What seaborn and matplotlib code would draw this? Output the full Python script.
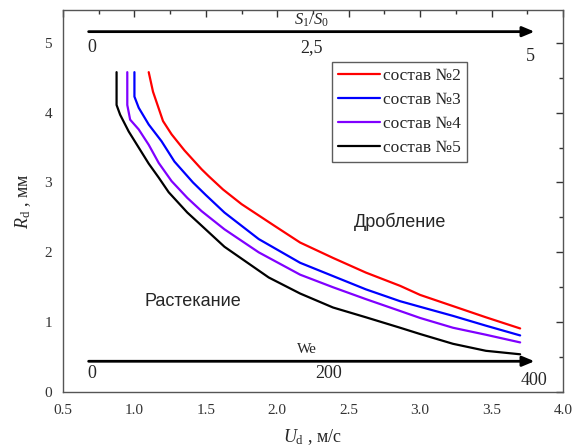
import matplotlib
matplotlib.use("Agg")
import matplotlib.pyplot as plt
import seaborn as sns
import pandas as pd
from matplotlib.ticker import MultipleLocator

sns.set_theme(style="white")
plt.rcParams['font.family'] = ['Liberation Serif', 'DejaVu Serif']
plt.rcParams['mathtext.fontset'] = 'custom'
plt.rcParams['mathtext.rm'] = 'Liberation Serif'
plt.rcParams['mathtext.it'] = 'Liberation Serif:italic'

labels = ["состав №2", "состав №3", "состав №4", "состав №5"]
colors = ["#ff0000", "#0000ff", "#8000ff", "#000000"]

ud2 = [1.10, 1.13, 1.20, 1.26, 1.35, 1.47, 1.52, 1.62, 1.75, 1.98, 2.16, 2.39, 2.62, 2.86, 3.00, 3.23, 3.46, 3.70]
rd2 = [4.58, 4.30, 3.88, 3.69, 3.46, 3.19, 3.09, 2.90, 2.69, 2.38, 2.14, 1.92, 1.71, 1.52, 1.39, 1.23, 1.07, 0.91]
ud3 = [1.00, 1.00, 1.03, 1.10, 1.19, 1.28, 1.41, 1.50, 1.63, 1.87, 2.16, 2.39, 2.62, 2.86, 3.00, 3.23, 3.46, 3.70]
rd3 = [4.58, 4.23, 4.07, 3.83, 3.59, 3.30, 3.00, 2.82, 2.57, 2.19, 1.85, 1.66, 1.47, 1.30, 1.22, 1.09, 0.95, 0.81]
ud4 = [0.95, 0.95, 0.97, 1.03, 1.10, 1.17, 1.26, 1.37, 1.47, 1.63, 1.87, 2.16, 2.39, 2.62, 2.86, 3.00, 3.23, 3.46, 3.70]
rd4 = [4.58, 4.11, 3.90, 3.76, 3.54, 3.28, 3.02, 2.78, 2.59, 2.33, 2.00, 1.68, 1.50, 1.33, 1.16, 1.06, 0.92, 0.82, 0.71]
ud5 = [0.875, 0.875, 0.90, 0.96, 1.03, 1.10, 1.17, 1.24, 1.37, 1.45, 1.63, 1.94, 2.16, 2.39, 2.62, 2.86, 3.00, 3.23, 3.46, 3.70]
rd5 = [4.58, 4.11, 3.97, 3.73, 3.50, 3.27, 3.07, 2.86, 2.57, 2.42, 2.08, 1.64, 1.41, 1.21, 1.07, 0.92, 0.83, 0.69, 0.59, 0.54]

s_ticks = ["0", "2,5", "5"]
we_ticks = ["0", "200", "400"]

frames = []
for lab, u, r in zip(labels, [ud2, ud3, ud4, ud5], [rd2, rd3, rd4, rd5]):
    frames.append(pd.DataFrame({"Ud": u, "Rd": r, "series": lab}))
df = pd.concat(frames, ignore_index=True)

fig = plt.figure(figsize=(5.73, 4.47), dpi=100)
ax = fig.add_axes([63/573, 55/447, 500/573, 382/447])

sns.lineplot(data=df, x="Ud", y="Rd", hue="series", palette=colors, sort=False,
             estimator=None, lw=1.6, ax=ax)

ax.set_xlim(0.5, 4.0)
ax.set_ylim(0, 5.47)
ax.xaxis.set_major_locator(MultipleLocator(0.5))
ax.xaxis.set_minor_locator(MultipleLocator(0.25))
ax.yaxis.set_major_locator(MultipleLocator(1))
ax.yaxis.set_minor_locator(MultipleLocator(0.5))
ax.set_xticklabels([f"{v:.1f}" for v in ax.get_xticks()])
ax.tick_params(which='both', direction='in', top=True, right=True, labelsize=11, colors='#333333')
ax.tick_params(which='major', length=5, width=1)
ax.tick_params(which='minor', length=3, width=1)
ax.tick_params(axis='x', which='major', pad=9)
ax.tick_params(axis='y', which='major', pad=8)
for sp in ax.spines.values():
    sp.set_color('#555555')
    sp.set_linewidth(1.0)

ax.set_xlabel(r"$U_\mathrm{d}$ , м/с", fontsize=13, labelpad=7)
ax.set_ylabel(r"$R_\mathrm{d}$ , мм", fontsize=13, labelpad=8)

# arrows
arrow_kw = dict(arrowstyle='-|>,head_length=0.6,head_width=0.25', color='black', lw=2)
ax.annotate("", xy=(3.82, 5.16), xytext=(0.66, 5.16), arrowprops=arrow_kw)
ax.annotate("", xy=(3.82, 0.44), xytext=(0.66, 0.44), arrowprops=arrow_kw)

ax.text(2.24, 5.32, r"$S_1/S_0$", ha='center', va='center', fontsize=12)
ax.text(0.70, 4.93, s_ticks[0], ha='center', va='center', fontsize=13)
ax.text(2.24, 4.93, s_ticks[1], ha='center', va='center', fontsize=13)
ax.text(3.77, 4.80, s_ticks[2], ha='center', va='center', fontsize=13)
ax.text(2.21, 0.61, "We", ha='center', va='center', fontsize=11)
ax.text(0.70, 0.27, we_ticks[0], ha='center', va='center', fontsize=13)
ax.text(2.36, 0.26, we_ticks[1], ha='center', va='center', fontsize=13)
ax.text(3.80, 0.16, we_ticks[2], ha='center', va='center', fontsize=13)

ax.text(1.41, 1.29, "Растекание", ha='center', va='center', fontsize=13, family='Liberation Sans')
ax.text(2.86, 2.44, "Дробление", ha='center', va='center', fontsize=13, family='Liberation Sans')

leg = ax.legend(loc='upper left', bbox_to_anchor=(0.538, 0.864), fontsize=12.5,
                frameon=True, fancybox=False, edgecolor='#333333', handlelength=2.4,
                handletextpad=0.2, borderpad=0.35, labelspacing=0.45, borderaxespad=0)
leg.get_frame().set_linewidth(1.0)
for l in leg.get_lines():
    l.set_linewidth(1.6)

fig.savefig("out.png", dpi=100)
